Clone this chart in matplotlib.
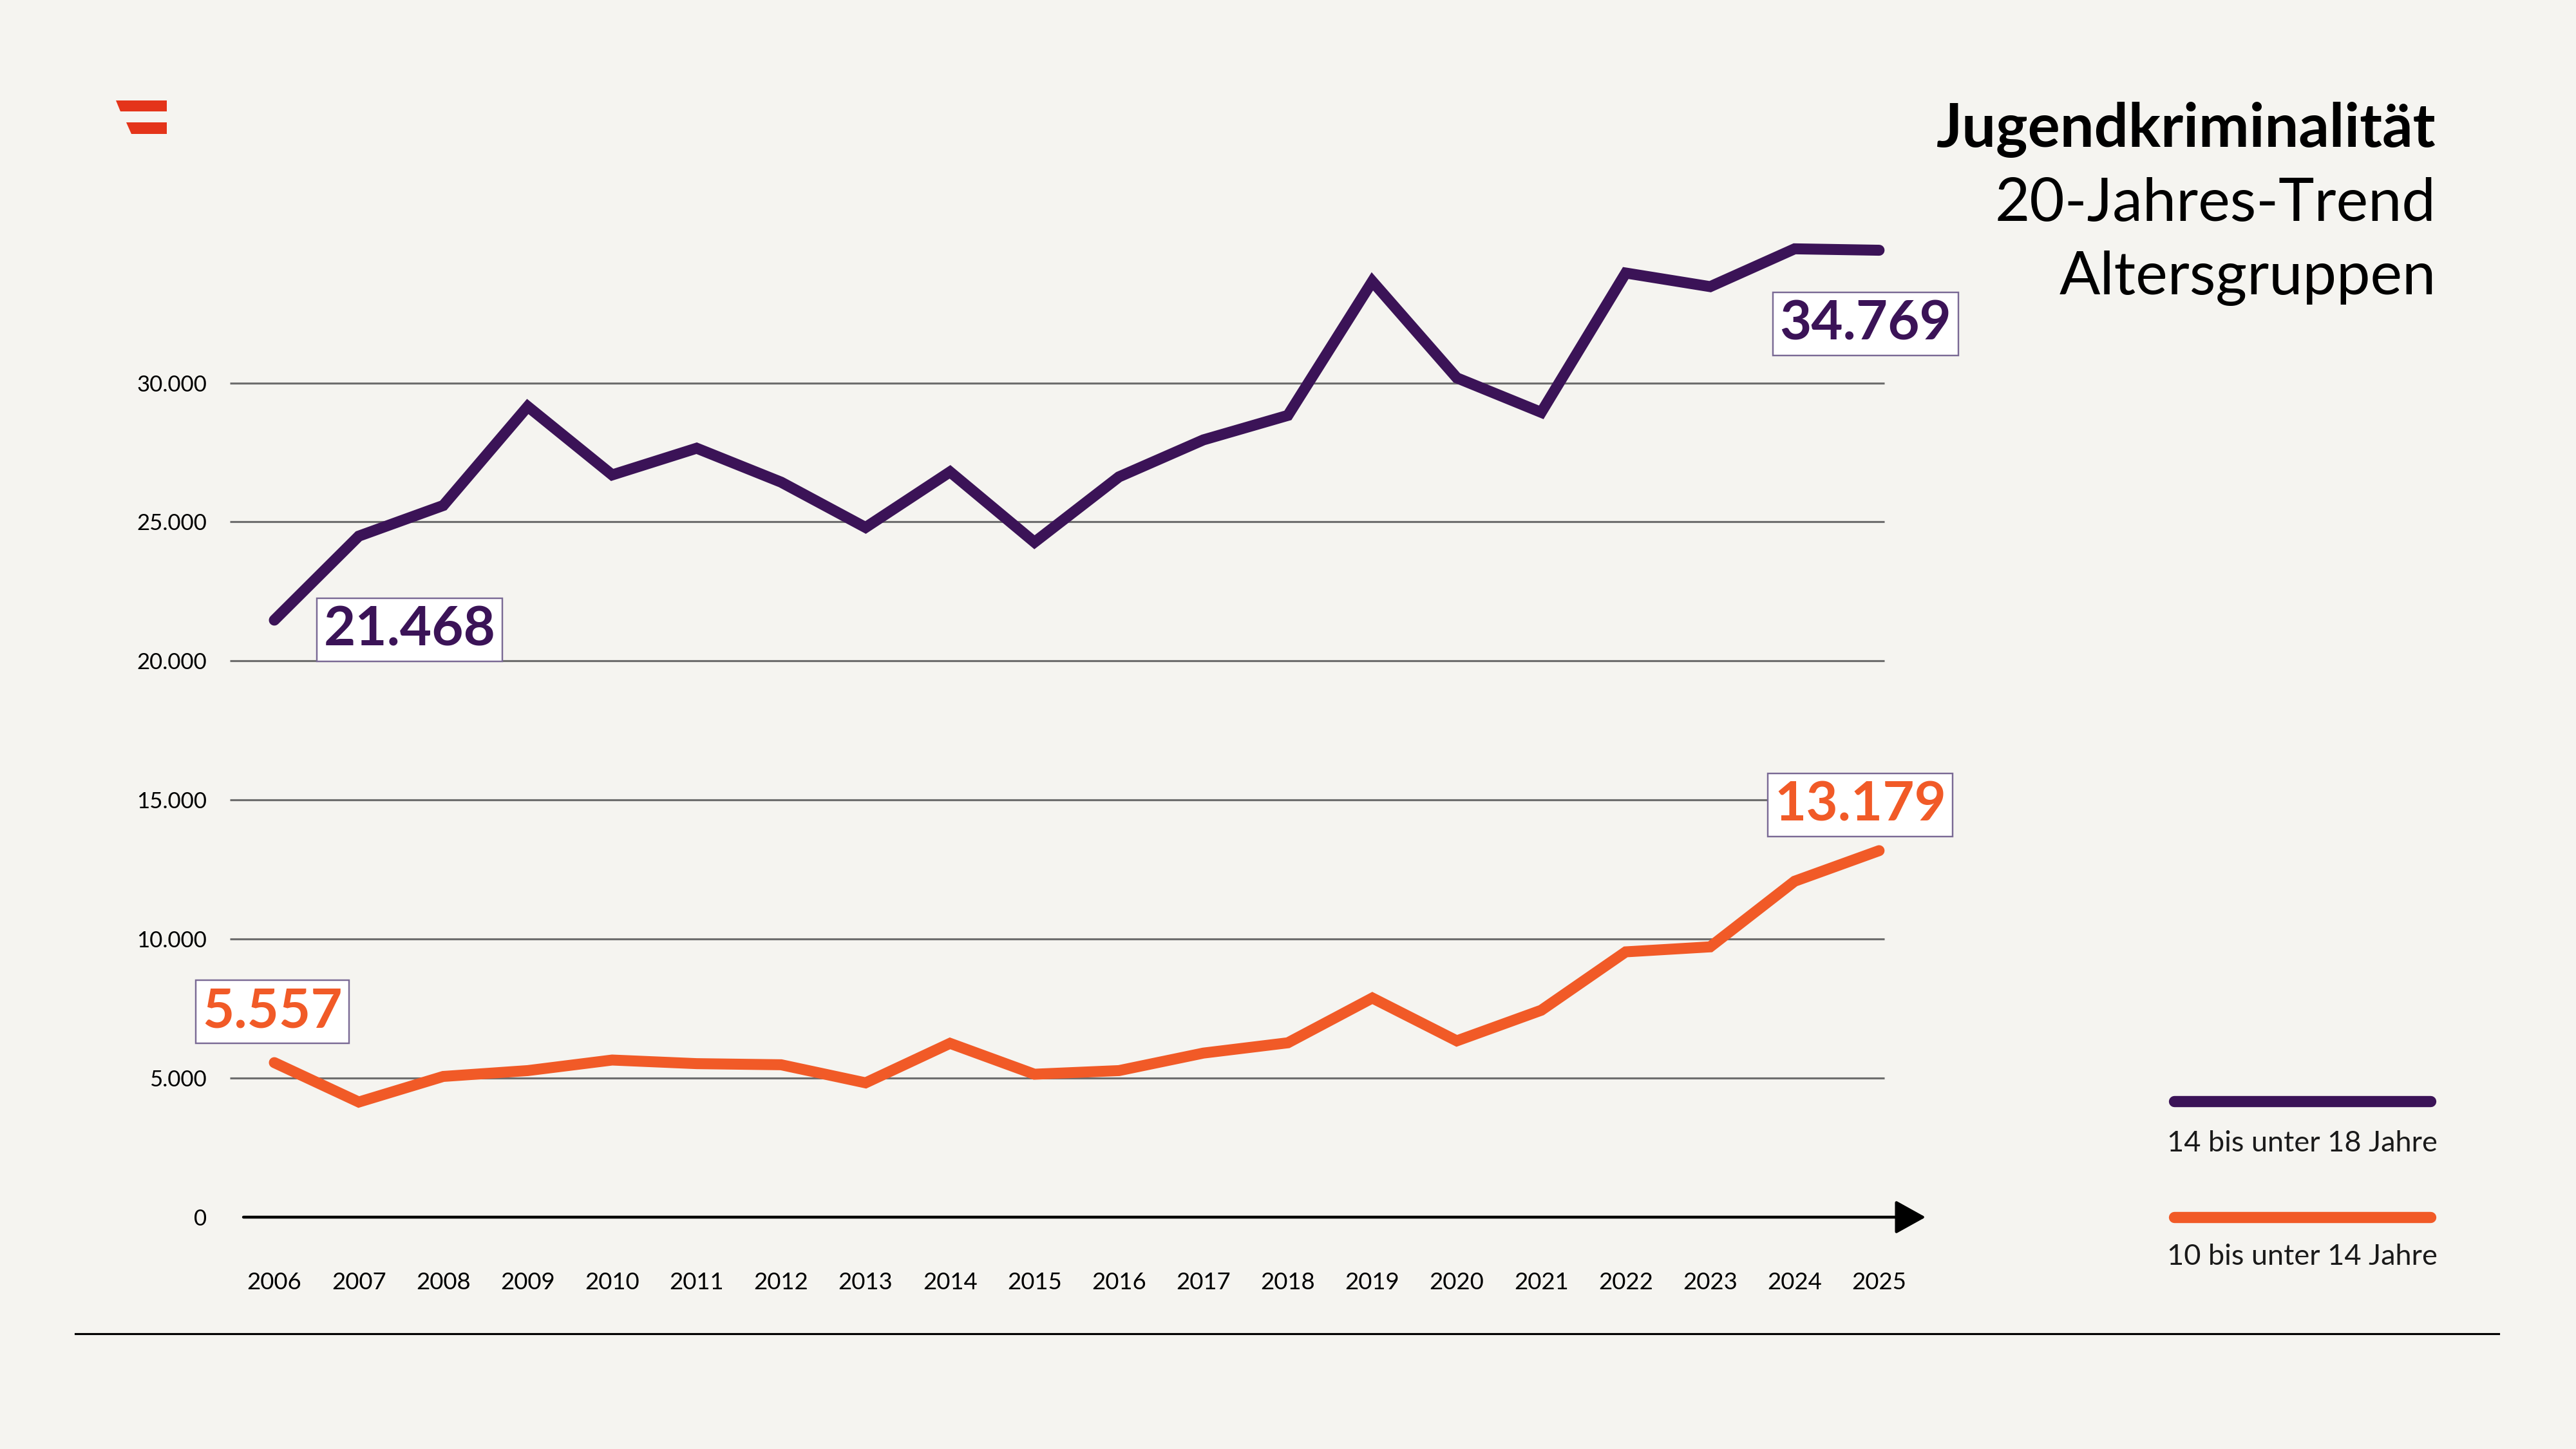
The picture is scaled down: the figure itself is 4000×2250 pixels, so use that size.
import matplotlib

matplotlib.use("Agg")
import matplotlib.pyplot as plt
from matplotlib.lines import Line2D
from matplotlib.patches import Polygon

# data
years = list(range(2006, 2026))
age_14_18 = [21468, 24490, 25590, 29150, 26690, 27650, 26430, 24800, 26800, 24270,
             26620, 27950, 28830, 33650, 30180, 28940, 33950, 33460, 34820, 34769]
age_10_14 = [5557, 4140, 5060, 5270, 5650, 5520, 5480, 4830, 6250, 5140,
             5270, 5900, 6270, 7880, 6340, 7440, 9540, 9720, 12080, 13179]
series_labels = ["14 bis unter 18 Jahre", "10 bis unter 14 Jahre"]
y_ticks = [0, 5000, 10000, 15000, 20000, 25000, 30000]
title_lines = ["Jugendkriminalität", "20-Jahres-Trend", "Altersgruppen"]

PURPLE = "#3B1357"
ORANGE = "#F15A27"
RED = "#E4341A"
BG = "#F5F4F0"
FONT = ["Lato", "DejaVu Sans"]

W, H = 4000, 2250


def fx(px):
    return px / W


def fy(py):
    return 1 - py / H


def de(v):
    return f"{v:,}".replace(",", ".")


plt.rcParams["font.family"] = FONT

fig = plt.figure(figsize=(16, 9), dpi=250, facecolor=BG)
ax = fig.add_axes([fx(357), fy(1890), fx(2990) - fx(357), fy(300) - fy(1890)])
ax.set_facecolor(BG)
ax.set_xlim(2005.474, 2025.55)
ax.set_ylim(0, 36820)
for s in ax.spines.values():
    s.set_visible(False)

# grid lines (not at zero, the axis arrow sits there)
ax.hlines([t for t in y_ticks if t > 0], 2005.474, 2025.06, color="#6E6E6E", lw=0.9, zorder=1)

ax.plot(years, age_14_18, color=PURPLE, lw=4.9, solid_capstyle="round",
        solid_joinstyle="miter", zorder=3)
ax.plot(years, age_10_14, color=ORANGE, lw=4.9, solid_capstyle="round",
        solid_joinstyle="miter", zorder=3)

ax.set_yticks(y_ticks)
ax.set_yticklabels([de(t) for t in y_ticks])
ax.set_xticks(years)
ax.set_xticklabels([str(y) for y in years])
ax.tick_params(axis="y", length=0, pad=10.4, labelsize=10)
ax.tick_params(axis="x", length=0, pad=24.5, labelsize=10.5)

# x axis arrow
ax.annotate("", xy=(1.0, 0), xytext=(0.008, 0), xycoords="axes fraction",
            textcoords="axes fraction",
            arrowprops=dict(arrowstyle="-|>,head_length=0.9,head_width=0.5",
                            mutation_scale=13, color="black", lw=1.3,
                            shrinkA=0, shrinkB=0),
            annotation_clip=False, zorder=2)

# value labels at first and last year
box = dict(boxstyle="square,pad=0.12", fc="white", ec="#7A6A95", lw=0.7)
labels = [
    (years[0], age_14_18[0], (60.5, -4.3), PURPLE),
    (years[-1], age_14_18[-1], (-6, -33), PURPLE),
    (years[-1], age_10_14[-1], (-8.4, 20.4), ORANGE),
    (years[0], age_10_14[0], (-0.9, 22.8), ORANGE),
]
for x, v, off, c in labels:
    ax.annotate(de(v), xy=(x, v), xytext=off, textcoords="offset points",
                ha="center", va="center", fontsize=24.5, fontweight="bold",
                color=c, bbox=box, zorder=5)

# title
fig.text(fx(3783), fy(228), title_lines[0], ha="right", va="baseline",
         fontsize=27, fontweight="bold", color="black")
fig.text(fx(3783), fy(343), title_lines[1], ha="right", va="baseline",
         fontsize=27, color="black")
fig.text(fx(3783), fy(457), title_lines[2], ha="right", va="baseline",
         fontsize=27, color="black")

# legend
for ly, ty, lab, c in [(1710, 1788, series_labels[0], PURPLE),
                       (1890, 1964, series_labels[1], ORANGE)]:
    fig.add_artist(Line2D([fx(3376), fx(3774)], [fy(ly), fy(ly)], transform=fig.transFigure,
                          color=c, lw=5, solid_capstyle="round"))
    fig.text(fx(3785), fy(ty), lab, ha="right", va="baseline", fontsize=13,
             fontweight="normal", color="#1A1A1A")

# bottom rule
fig.add_artist(Line2D([fx(117), fx(3880)], [fy(2071), fy(2071)], transform=fig.transFigure,
                      color="black", lw=0.9))

# logo
for pts in [[(179.7, 155.7), (259.3, 155.7), (259.3, 173), (187.3, 173)],
            [(196, 190), (259.3, 190), (259.3, 207.7), (203.7, 207.7)]]:
    fig.patches.append(Polygon([(fx(a), fy(b)) for a, b in pts], closed=True,
                               transform=fig.transFigure, fc=RED, ec="none"))

fig.savefig("out.png", dpi=250, facecolor=BG)
